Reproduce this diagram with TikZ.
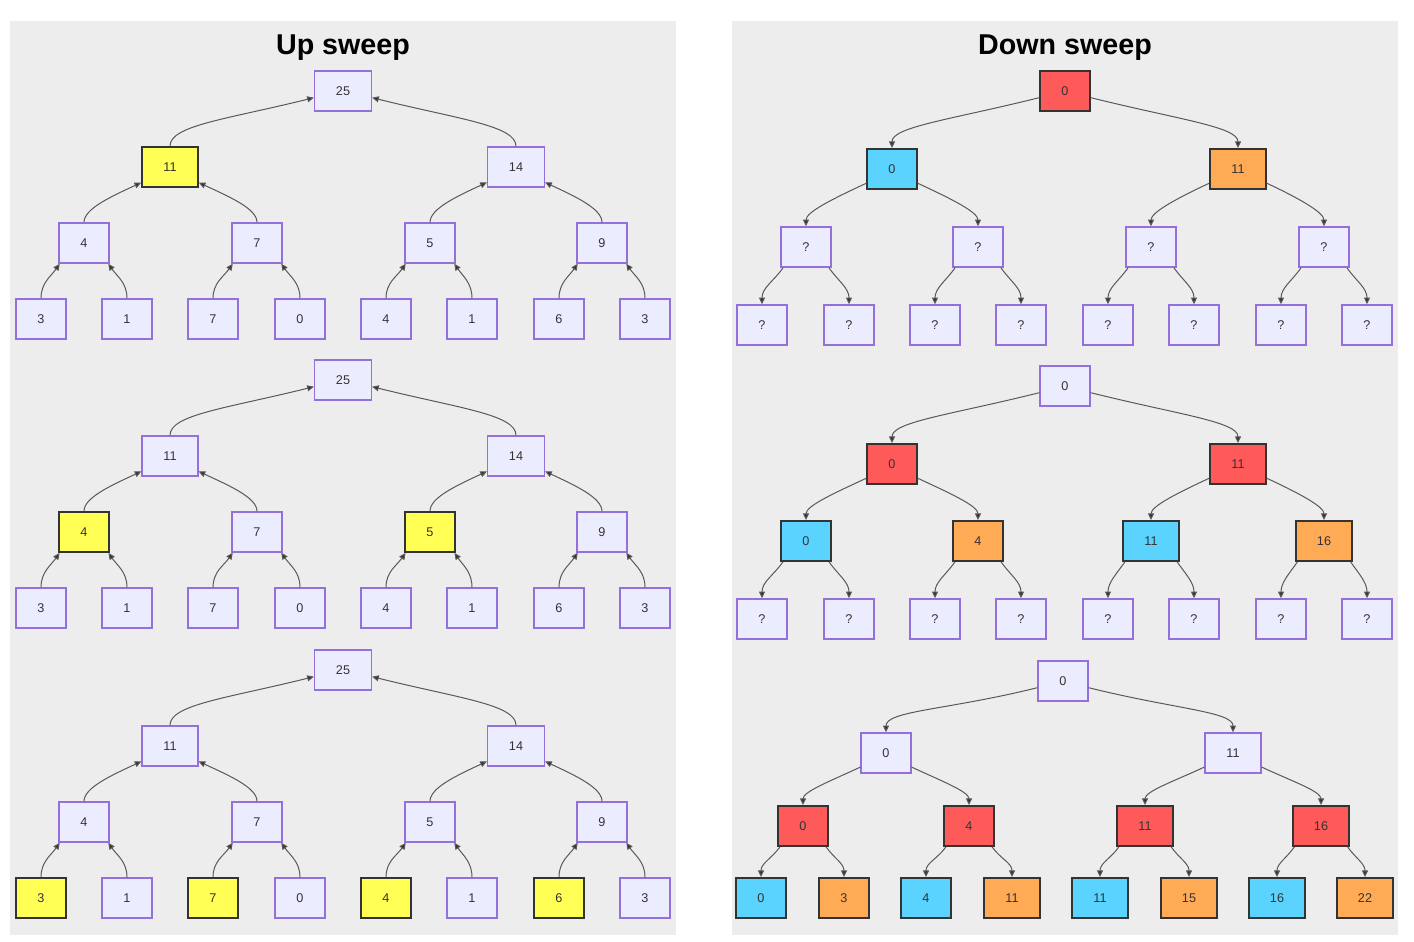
\documentclass[tikz,border=0pt]{standalone}
\usepackage{fontspec}
\setmainfont{Liberation Sans}
\usetikzlibrary{arrows.meta}
\definecolor{panelgray}{HTML}{EDEDED}
\definecolor{nodefill}{HTML}{ECECFF}
\definecolor{nodeline}{HTML}{9370DB}
\definecolor{textgray}{HTML}{333333}
\definecolor{edgegray}{HTML}{595959}
\definecolor{hiyellow}{HTML}{FFFF55}
\definecolor{hired}{HTML}{FF5A5A}
\definecolor{hiblue}{HTML}{5AD4FF}
\definecolor{hiorange}{HTML}{FFAA55}
\tikzset{
  plain/.style={draw=nodeline,fill=nodefill,line width=1.1pt,text=textgray,
    font=\fontsize{9.5}{11}\selectfont,minimum height=30pt,inner xsep=16pt},
  yellowbox/.style={plain,draw=textgray,fill=hiyellow,line width=1.4pt},
  redbox/.style={plain,draw=textgray,fill=hired,line width=1.4pt},
  bluebox/.style={plain,draw=textgray,fill=hiblue,line width=1.4pt},
  orangebox/.style={plain,draw=textgray,fill=hiorange,line width=1.4pt},
  upline/.style={edgegray,line width=0.75pt,-{Triangle[length=5pt,width=4.5pt,fill=textgray]}},
  downline/.style={upline},
  title/.style={font=\fontsize{21.5}{24}\selectfont\bfseries,text=black}
}

\begin{document}
\begin{tikzpicture}[x=0.75pt,y=-0.75pt]
  \useasboundingbox[fill=white] (0,0) rectangle (1414,942);
  \fill[panelgray] (10,21) rectangle (676,935);
  \fill[panelgray] (732,21) rectangle (1398,935);
  \node[title] (uptitle) at (343,48) {Up sweep};
  \node[title] (downtitle) at (1065,48) {Down sweep};

  % up sweep, step 1
  \node[plain] (u1n1) at (343,91) {25};
  \node[yellowbox] (u1n2) at (170,167) {11};
  \node[plain] (u1n3) at (516,167) {14};
  \node[plain] (u1n4) at (84,243) {4};
  \node[plain] (u1n5) at (257,243) {7};
  \node[plain] (u1n6) at (430,243) {5};
  \node[plain] (u1n7) at (602,243) {9};
  \node[plain] (u1n8) at (41,319) {3};
  \node[plain] (u1n9) at (127,319) {1};
  \node[plain] (u1n10) at (213,319) {7};
  \node[plain] (u1n11) at (300,319) {0};
  \node[plain] (u1n12) at (386,319) {4};
  \node[plain] (u1n13) at (472,319) {1};
  \node[plain] (u1n14) at (559,319) {6};
  \node[plain] (u1n15) at (645,319) {3};

  % up sweep, step 2
  \node[plain] (u2n1) at (343,380) {25};
  \node[plain] (u2n2) at (170,456) {11};
  \node[plain] (u2n3) at (516,456) {14};
  \node[yellowbox] (u2n4) at (84,532) {4};
  \node[plain] (u2n5) at (257,532) {7};
  \node[yellowbox] (u2n6) at (430,532) {5};
  \node[plain] (u2n7) at (602,532) {9};
  \node[plain] (u2n8) at (41,608) {3};
  \node[plain] (u2n9) at (127,608) {1};
  \node[plain] (u2n10) at (213,608) {7};
  \node[plain] (u2n11) at (300,608) {0};
  \node[plain] (u2n12) at (386,608) {4};
  \node[plain] (u2n13) at (472,608) {1};
  \node[plain] (u2n14) at (559,608) {6};
  \node[plain] (u2n15) at (645,608) {3};

  % up sweep, step 3
  \node[plain] (u3n1) at (343,670) {25};
  \node[plain] (u3n2) at (170,746) {11};
  \node[plain] (u3n3) at (516,746) {14};
  \node[plain] (u3n4) at (84,822) {4};
  \node[plain] (u3n5) at (257,822) {7};
  \node[plain] (u3n6) at (430,822) {5};
  \node[plain] (u3n7) at (602,822) {9};
  \node[yellowbox] (u3n8) at (41,898) {3};
  \node[plain] (u3n9) at (127,898) {1};
  \node[yellowbox] (u3n10) at (213,898) {7};
  \node[plain] (u3n11) at (300,898) {0};
  \node[yellowbox] (u3n12) at (386,898) {4};
  \node[plain] (u3n13) at (472,898) {1};
  \node[yellowbox] (u3n14) at (559,898) {6};
  \node[plain] (u3n15) at (645,898) {3};

  % down sweep, step 1
  \node[redbox] (d1n1) at (1065,91) {0};
  \node[bluebox] (d1n2) at (892,169) {0};
  \node[orangebox] (d1n3) at (1238,169) {11};
  \node[plain] (d1n4) at (806,247) {?};
  \node[plain] (d1n5) at (978,247) {?};
  \node[plain] (d1n6) at (1151,247) {?};
  \node[plain] (d1n7) at (1324,247) {?};
  \node[plain] (d1n8) at (762,325) {?};
  \node[plain] (d1n9) at (849,325) {?};
  \node[plain] (d1n10) at (935,325) {?};
  \node[plain] (d1n11) at (1021,325) {?};
  \node[plain] (d1n12) at (1108,325) {?};
  \node[plain] (d1n13) at (1194,325) {?};
  \node[plain] (d1n14) at (1281,325) {?};
  \node[plain] (d1n15) at (1367,325) {?};

  % down sweep, step 2
  \node[plain] (d2n1) at (1065,386) {0};
  \node[redbox] (d2n2) at (892,464) {0};
  \node[redbox] (d2n3) at (1238,464) {11};
  \node[bluebox] (d2n4) at (806,541) {0};
  \node[orangebox] (d2n5) at (978,541) {4};
  \node[bluebox] (d2n6) at (1151,541) {11};
  \node[orangebox] (d2n7) at (1324,541) {16};
  \node[plain] (d2n8) at (762,619) {?};
  \node[plain] (d2n9) at (849,619) {?};
  \node[plain] (d2n10) at (935,619) {?};
  \node[plain] (d2n11) at (1021,619) {?};
  \node[plain] (d2n12) at (1108,619) {?};
  \node[plain] (d2n13) at (1194,619) {?};
  \node[plain] (d2n14) at (1281,619) {?};
  \node[plain] (d2n15) at (1367,619) {?};

  % down sweep, step 3
  \begin{scope}[every node/.append style={minimum height=28.5pt,inner xsep=14.5pt}]
  \node[plain] (d3n1) at (1063,681) {0};
  \node[plain] (d3n2) at (886,753) {0};
  \node[plain] (d3n3) at (1233,753) {11};
  \node[redbox] (d3n4) at (803,826) {0};
  \node[redbox] (d3n5) at (969,826) {4};
  \node[redbox] (d3n6) at (1145,826) {11};
  \node[redbox] (d3n7) at (1321,826) {16};
  \node[bluebox] (d3n8) at (761,898) {0};
  \node[orangebox] (d3n9) at (844,898) {3};
  \node[bluebox] (d3n10) at (926,898) {4};
  \node[orangebox] (d3n11) at (1012,898) {11};
  \node[bluebox] (d3n12) at (1100,898) {11};
  \node[orangebox] (d3n13) at (1189,898) {15};
  \node[bluebox] (d3n14) at (1277,898) {16};
  \node[orangebox] (d3n15) at (1365,898) {22};
  \end{scope}

  % edges
  \foreach \tr in {1,2,3}{
    \draw[upline] (u\tr n2.north) to[out=90,in=194,out looseness=0.35,in looseness=1.5] ([yshift=-5pt]u\tr n1.west);
    \draw[upline] (u\tr n3.north) to[out=90,in=-14,out looseness=0.35,in looseness=1.5] ([yshift=-5pt]u\tr n1.east);
    \foreach \ch/\pa in {4/2,6/3}
      \draw[upline] (u\tr n\ch.north) to[out=90,in=205,out looseness=0.5,in looseness=1.2] ([yshift=4pt]u\tr n\pa.south west);
    \foreach \ch/\pa in {5/2,7/3}
      \draw[upline] (u\tr n\ch.north) to[out=90,in=-25,out looseness=0.5,in looseness=1.2] ([yshift=4pt]u\tr n\pa.south east);
    \foreach \ch/\pa in {8/4,10/5,12/6,14/7}
      \draw[upline] (u\tr n\ch.north) to[out=90,in=235] ([xshift=1pt]u\tr n\pa.south west);
    \foreach \ch/\pa in {9/4,11/5,13/6,15/7}
      \draw[upline] (u\tr n\ch.north) to[out=90,in=-55] ([xshift=-1pt]u\tr n\pa.south east);

    \draw[downline] ([yshift=-5pt]d\tr n1.west) to[out=194,in=90,out looseness=1.5,in looseness=0.35] (d\tr n2.north);
    \draw[downline] ([yshift=-5pt]d\tr n1.east) to[out=-14,in=90,out looseness=1.5,in looseness=0.35] (d\tr n3.north);
    \foreach \pa/\ch in {2/4,3/6}
      \draw[downline] ([yshift=5pt]d\tr n\pa.south west) to[out=205,in=90,out looseness=1.2,in looseness=0.5] (d\tr n\ch.north);
    \foreach \pa/\ch in {2/5,3/7}
      \draw[downline] ([yshift=5pt]d\tr n\pa.south east) to[out=-25,in=90,out looseness=1.2,in looseness=0.5] (d\tr n\ch.north);
    \foreach \pa/\ch in {4/8,5/10,6/12,7/14}
      \draw[downline] ([xshift=2pt]d\tr n\pa.south west) to[out=235,in=90] (d\tr n\ch.north);
    \foreach \pa/\ch in {4/9,5/11,6/13,7/15}
      \draw[downline] ([xshift=-2pt]d\tr n\pa.south east) to[out=-55,in=90] (d\tr n\ch.north);
  }
\end{tikzpicture}
\end{document}
